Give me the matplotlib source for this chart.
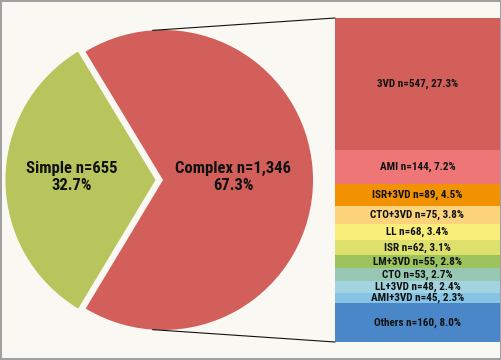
import numpy as np
import matplotlib
matplotlib.use("Agg")
import matplotlib.pyplot as plt
from matplotlib import font_manager as fm
from matplotlib.patches import ConnectionPatch

# pick a condensed bold face if one is available
installed = {f.name for f in fm.fontManager.ttflist}
prefs = ['Roboto Condensed', 'Archivo Narrow', 'PT Sans Narrow', 'Barlow Condensed',
         'Liberation Sans Narrow', 'Oswald', 'DejaVu Sans']
font = next(f for f in prefs if f in installed)
plt.rcParams['font.family'] = [font, 'DejaVu Sans']

# pie data
pie_labels = ['Simple', 'Complex']
pie_counts = [655, 1346]
pie_pcts = [32.7, 67.3]
pie_colors = ['#B8C45C', '#D35F5A']

# breakdown of complex lesions (top to bottom)
sub_labels = ['3VD', 'AMI', 'ISR+3VD', 'CTO+3VD', 'LL', 'ISR', 'LM+3VD',
              'CTO', 'LL+3VD', 'AMI+3VD', 'Others']
sub_counts = [547, 144, 89, 75, 68, 62, 55, 53, 48, 45, 160]
sub_pcts = [27.3, 7.2, 4.5, 3.8, 3.4, 3.1, 2.8, 2.7, 2.4, 2.3, 8.0]
sub_colors = ['#D35F5A', '#EE7676', '#F39200', '#FDD47C', '#FAEE7A', '#DEE06C',
              '#9CC35C', '#98C8B4', '#A2D3E1', '#86C3E5', '#4A87C8']

W, H = 502, 360
fig = plt.figure(figsize=(W / 100, H / 100), dpi=100)
fig.patch.set_facecolor('#F9F8F3')
fig.patch.set_edgecolor('#A0A0A0')
fig.patch.set_linewidth(1.5)

# pie axes
ax_pie = fig.add_axes([13 / W, 30 / H, 300 / W, 300 / H])
ax_pie.set_facecolor('none')
wedges, _ = ax_pie.pie(pie_counts, colors=pie_colors, startangle=180 - 0.327 * 180,
                       explode=[0.05, 0], radius=1, counterclock=True,
                       wedgeprops=dict(linewidth=0))
ax_pie.set_xlim(-1, 1)
ax_pie.set_ylim(-1, 1)
ax_pie.axis('off')
for w in wedges:
    w.set_clip_on(False)

ax_pie.text(-0.61, 0.02, f'Simple n={pie_counts[0]}\n{pie_pcts[0]}%', ha='center', va='center',
            fontsize=12, fontweight='bold', color='#111111', linespacing=1.15)
ax_pie.text(0.47, 0.02, f'Complex n={pie_counts[1]:,}\n{pie_pcts[1]}%', ha='center', va='center',
            fontsize=12, fontweight='bold', color='#111111', linespacing=1.15)

# stacked bar axes
ax_bar = fig.add_axes([335 / W, 18 / H, 165 / W, 324 / H])
ax_bar.set_facecolor('none')
total = sum(sub_counts)
bottom = total
for lab, n, p, c in zip(sub_labels, sub_counts, sub_pcts, sub_colors):
    bottom -= n
    ax_bar.bar(0, n, bottom=bottom, width=1, color=c, linewidth=0)
    ax_bar.text(0, bottom + n / 2, f'{lab} n={n}, {p}%', ha='center', va='center',
                fontsize=8, fontweight='bold', color='#111111')
ax_bar.set_xlim(-0.5, 0.5)
ax_bar.set_ylim(0, total)
ax_bar.axis('off')

# connecting lines
th_top = np.deg2rad(94)
th_bot = np.deg2rad(266)
for th, yb in [(th_top, total), (th_bot, 0)]:
    con = ConnectionPatch(xyA=(np.cos(th), np.sin(th)), coordsA=ax_pie.transData,
                          xyB=(-0.5, yb), coordsB=ax_bar.transData,
                          color='#111111', linewidth=0.8)
    fig.add_artist(con)

fig.savefig('out.png', dpi=100, facecolor=fig.get_facecolor(), edgecolor=fig.get_edgecolor())
